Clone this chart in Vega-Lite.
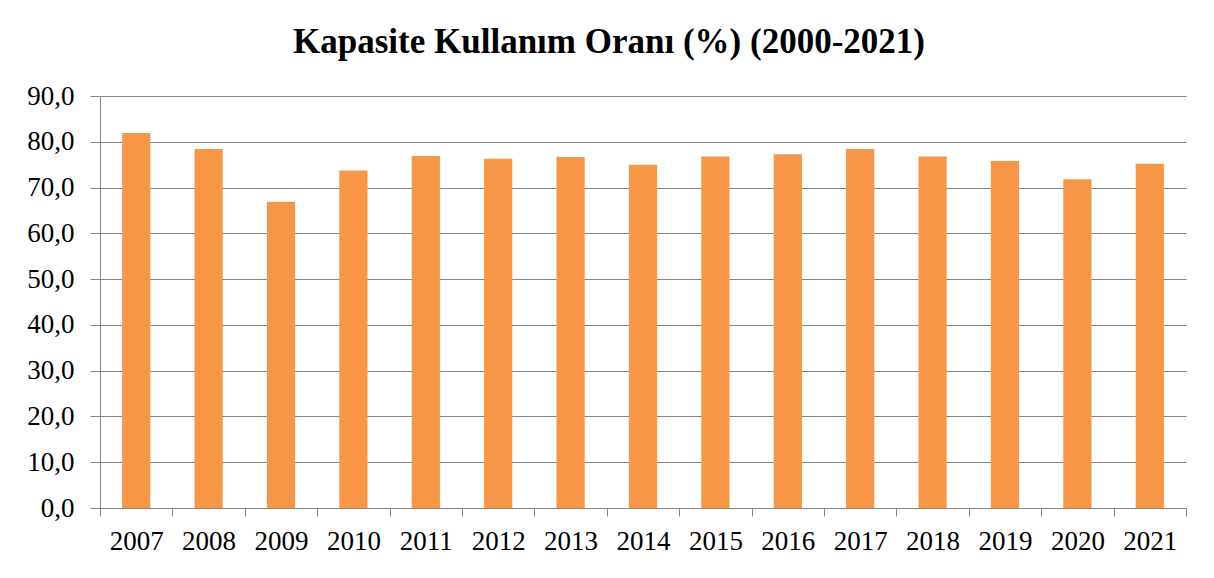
{
  "$schema": "https://vega.github.io/schema/vega-lite/v6.json",
  "autosize": "none",
  "width": 1086,
  "height": 412,
  "padding": {"left": 100, "top": 96, "right": 28, "bottom": 70},
  "background": "white",
  "title": {
    "text": "Kapasite Kullanım Oranı (%) (2000-2021)",
    "font": "Liberation Serif",
    "fontSize": 35,
    "fontWeight": "bold",
    "color": "black",
    "anchor": "middle",
    "dx": -34,
    "baseline": "alphabetic",
    "offset": -6
  },
  "data": {
    "values": [
      {"yil": "2007", "oran": 81.9},
      {"yil": "2008", "oran": 78.4},
      {"yil": "2009", "oran": 66.9},
      {"yil": "2010", "oran": 73.7},
      {"yil": "2011", "oran": 76.9},
      {"yil": "2012", "oran": 76.3},
      {"yil": "2013", "oran": 76.7},
      {"yil": "2014", "oran": 75.0},
      {"yil": "2015", "oran": 76.8},
      {"yil": "2016", "oran": 77.3},
      {"yil": "2017", "oran": 78.4},
      {"yil": "2018", "oran": 76.8},
      {"yil": "2019", "oran": 75.8},
      {"yil": "2020", "oran": 71.8},
      {"yil": "2021", "oran": 75.2}
    ]
  },
  "mark": {"type": "bar", "color": "#F79646", "width": {"band": 0.39}},
  "encoding": {
    "x": {
      "field": "yil",
      "type": "ordinal",
      "scale": {"paddingInner": 0, "paddingOuter": 0},
      "axis": {
        "title": null,
        "labelAngle": 0,
        "tickBand": "extent",
        "grid": false,
        "domainColor": "#868686",
        "tickColor": "#868686",
        "tickSize": 8,
        "labelPadding": 12,
        "labelFont": "Liberation Serif",
        "labelFontSize": 27,
        "labelColor": "black"
      }
    },
    "y": {
      "field": "oran",
      "type": "quantitative",
      "scale": {"domain": [0, 90], "nice": false},
      "axis": {
        "title": null,
        "values": [0, 10, 20, 30, 40, 50, 60, 70, 80, 90],
        "format": ".1f",
        "grid": true,
        "gridColor": "#868686",
        "gridWidth": 1.2,
        "domainColor": "#868686",
        "tickColor": "#868686",
        "tickSize": 10,
        "labelPadding": 16,
        "labelFont": "Liberation Serif",
        "labelFontSize": 27,
        "labelColor": "black"
      }
    }
  },
  "config": {
    "view": {"stroke": null},
    "locale": {"number": {"decimal": ",", "thousands": ".", "grouping": [3], "currency": ["", ""]}}
  }
}
